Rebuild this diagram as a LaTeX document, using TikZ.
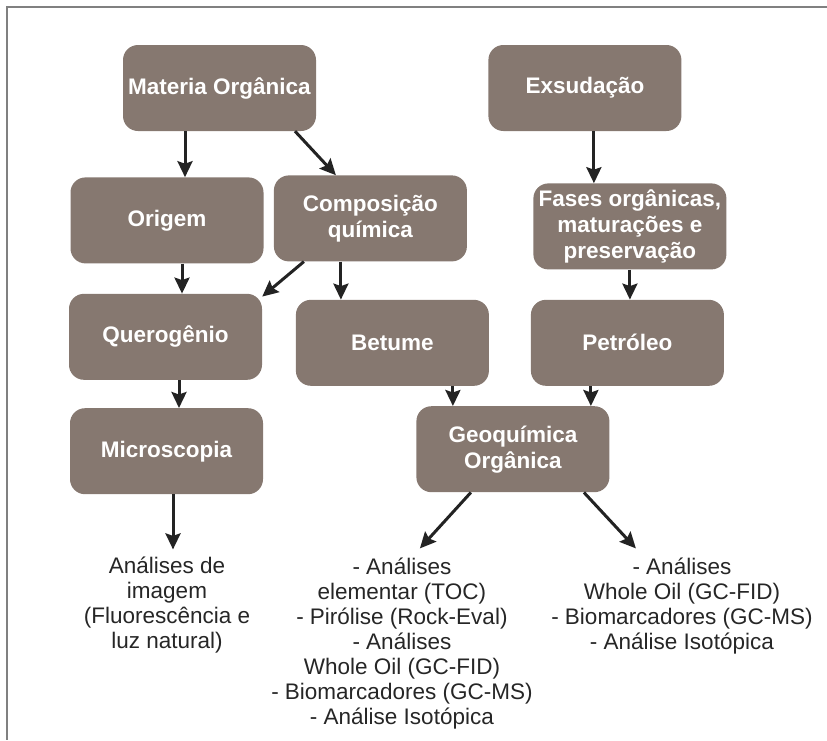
\documentclass[tikz,border=0pt]{standalone}
\usepackage{fontspec}
\setmainfont{Liberation Sans}
\usetikzlibrary{arrows.meta, positioning}
\definecolor{boxbrown}{RGB}{134,120,112}
\definecolor{arrowdark}{RGB}{35,35,35}
\tikzset{
  box/.style={rectangle, fill=boxbrown, rounded corners=15pt,
              minimum width=193pt, minimum height=86pt, align=center,
              text=white, font=\fontsize{22.5}{26}\selectfont\bfseries},
  result/.style={align=center, inner sep=0pt, text=black!85,
                 font=\fontsize{22.5}{25}\selectfont},
  arrow/.style={-{Stealth[length=16pt, width=15pt, inset=2.5pt]},
                line width=3pt, draw=arrowdark},
  frame/.style={draw=gray, line width=2pt},
}
\begin{document}
\begin{tikzpicture}[x=1pt, y=1pt]
  \useasboundingbox (0,0) rectangle (827,-740);
  \draw[frame] (827,-7) -- (7,-7) -- (7,-740);

  % left column
  \node (mat) [box] at (219.5,-88) {Materia Orgânica};
  \node (origem) [box, below=46pt of mat, xshift=-52.5pt] {Origem};
  \node (comp) [box, right=10pt of origem, yshift=2pt] {Composição\\química};
  \node (quero) [box, below=30pt of origem, xshift=-1.5pt] {Querogênio};
  \node (micro) [box, below=28pt of quero, xshift=1pt] {Microscopia};
  \node (betume) [box, below=38pt of comp, xshift=22pt] {Betume};

  % right column
  \node (exsud) [box, right=172pt of mat] {Exsudação};
  \node (fases) [box, below=52pt of exsud, xshift=45pt] {Fases orgânicas,\\maturações e\\preservação};
  \node (petro) [box, below=30pt of fases, xshift=-2.5pt] {Petróleo};
  \node (geo) [box, below=20pt of betume, xshift=120.5pt] {Geoquímica\\Orgânica};

  % results
  \node (imgtxt) [result, anchor=north, below=62pt of micro, xshift=0.5pt]
    {Análises de\\imagem\\(Fluorescência e\\luz natural)};
  \node (rocktxt) [result, anchor=north, below=65pt of geo, xshift=-111pt]
    {- Análises\\elementar (TOC)\\- Pirólise (Rock-Eval)\\- Análises\\Whole Oil (GC-FID)\\- Biomarcadores (GC-MS)\\- Análise Isotópica};
  \node (oiltxt) [result, anchor=north, below=65pt of geo, xshift=169pt]
    {- Análises\\Whole Oil (GC-FID)\\- Biomarcadores (GC-MS)\\- Análise Isotópica};

  \draw[arrow] ([xshift=-34.5pt]mat.south) -- ([xshift=18pt]origem.north);
  \draw[arrow] ([xshift=75.5pt]mat.south) -- ([xshift=-34.5pt]comp.north);
  \draw[arrow] ([xshift=15pt]origem.south) -- ([xshift=16.5pt]quero.north);
  \draw[arrow] ([xshift=-66.5pt]comp.south) -- ([yshift=-3pt]quero.north east);
  \draw[arrow] ([xshift=-29.5pt]comp.south) -- ([xshift=-51.5pt]betume.north);
  \draw[arrow] ([xshift=13.5pt]quero.south) -- ([xshift=12.5pt]micro.north);
  \draw[arrow] ([xshift=9pt]exsud.south) -- ([xshift=-36pt]fases.north);
  \draw[arrow] (fases.south) -- ([xshift=2.5pt]petro.north);
  \draw[arrow] ([xshift=60.5pt]betume.south) -- ([xshift=-60pt]geo.north);
  \draw[arrow] ([xshift=-36.5pt]petro.south) -- ([xshift=78pt]geo.north);
  \draw[arrow] ([xshift=6.5pt]micro.south) -- ([xshift=6pt, yshift=7pt]imgtxt.north);
  \draw[arrow] ([xshift=-42pt]geo.south) -- ([xshift=18pt, yshift=9pt]rocktxt.north);
  \draw[arrow] ([xshift=71pt]geo.south) -- ([xshift=-46pt, yshift=9pt]oiltxt.north);
\end{tikzpicture}
\end{document}
